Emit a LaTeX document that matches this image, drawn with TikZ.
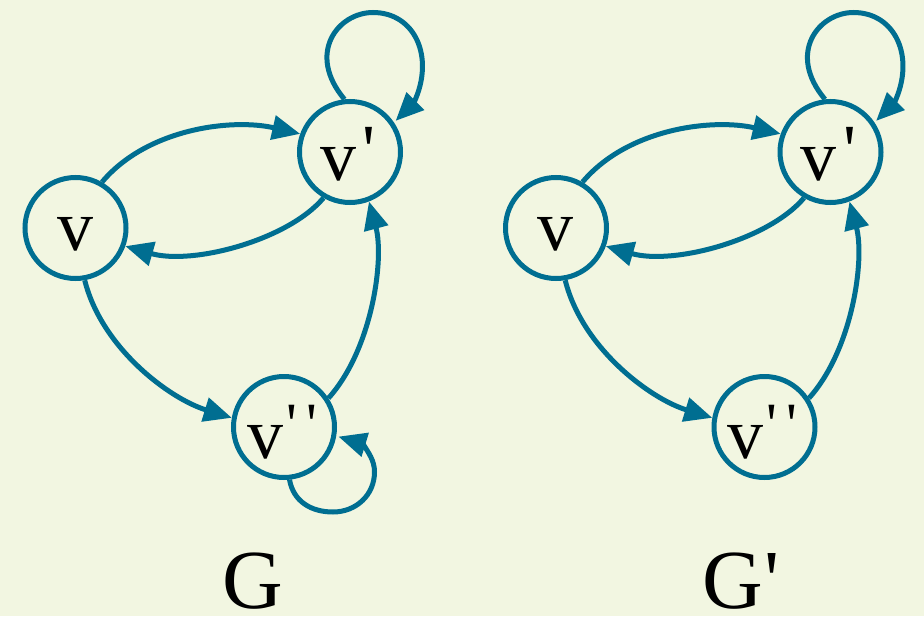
\documentclass[tikz,border=0pt]{standalone}
\usepackage{fontspec}
\usetikzlibrary{arrows.meta}
\definecolor{bgcol}{RGB}{242,246,225}
\definecolor{edgeblue}{RGB}{0,110,145}
\font\vfont="Liberation Serif" at 72pt
\font\gfont="Liberation Serif" at 84pt
\font\pfont="Liberation Serif" at 60pt
\begin{document}
\begin{tikzpicture}[x=1pt,y=-1pt,
  vert/.style={circle,draw=edgeblue,line width=5pt,minimum size=101pt,inner sep=0pt},
  lbl/.style={anchor=base west,inner sep=0pt,outer sep=0pt,text=black},
  arc/.style={draw=edgeblue,line width=5pt,-{Triangle[length=28pt,width=24pt]}},
]
\fill[bgcol] (0,0) rectangle (924,616);
\useasboundingbox (0,0) rectangle (924,616);

% ---- G ----
\node[vert] (a) at (75.5,228) {};
\node[vert] (b) at (350,152) {};
\node[vert] (c) at (284,427) {};
\node[lbl] (ta) at (57,250) {\vfont v};
\node[lbl] (tb) at (320,180) {\vfont v\kern6.5pt\raise6pt\hbox{'}};
\node[lbl] (tc) at (247,458) {\vfont v\kern3pt\raise14pt\hbox{\pfont '\kern9.5pt'}};
\node[lbl] (g1) at (222,608) {\gfont G};

\coordinate (lt) at (373,12.5);
\coordinate (lb) at (414,102.5);
\coordinate (mb) at (333,512);
\coordinate (mr) at (374.5,472);
\coordinate (mt) at (363.3,444.2);

\draw[arc] (a.60) .. controls +(50:70pt) and +(167:70pt) .. (b.160);
\draw[arc] (b.240) .. controls +(230:55pt) and +(-16:70pt) .. (a.340);
\draw[arc] (a.280) .. controls +(-76:70pt) and +(163:65pt) .. (c.170);
\draw[arc] (c.33) .. controls +(48:65pt) and +(-75:60pt) .. (b.291);
\draw[arc] (b.96) .. controls +(130:60pt) and +(180:35pt) .. (lt)
   .. controls +(0:42pt) and +(65:50pt) .. (lb) -- ++(225:26pt);
\draw[arc] (c.276) .. controls +(-80:22pt) and +(180:22pt) .. (mb)
   .. controls +(0:23pt) and +(-90:23pt) .. (mr)
   .. controls +(90:12pt) and +(-60:10pt) .. (mt) -- ++(163:26pt);

% ---- G' ----
\begin{scope}[xshift=480.5pt]
\node[vert] (a2) at (75.5,228) {};
\node[vert] (b2) at (350,152) {};
\node[vert] (c2) at (284,427) {};
\node[lbl] (ta2) at (57,250) {\vfont v};
\node[lbl] (tb2) at (320,180) {\vfont v\kern6.5pt\raise6pt\hbox{'}};
\node[lbl] (tc2) at (247,458) {\vfont v\kern3pt\raise14pt\hbox{\pfont '\kern9.5pt'}};
\node[lbl] (g2) at (221.5,608) {\gfont G\kern2pt\hbox{'}};

\coordinate (lt2) at (373,12.5);
\coordinate (lb2) at (414,102.5);

\draw[arc] (a2.60) .. controls +(50:70pt) and +(167:70pt) .. (b2.160);
\draw[arc] (b2.240) .. controls +(230:55pt) and +(-16:70pt) .. (a2.340);
\draw[arc] (a2.280) .. controls +(-76:70pt) and +(163:65pt) .. (c2.170);
\draw[arc] (c2.33) .. controls +(48:65pt) and +(-75:60pt) .. (b2.291);
\draw[arc] (b2.96) .. controls +(130:60pt) and +(180:35pt) .. (lt2)
   .. controls +(0:42pt) and +(65:50pt) .. (lb2) -- ++(225:26pt);
\end{scope}
\end{tikzpicture}
\end{document}
